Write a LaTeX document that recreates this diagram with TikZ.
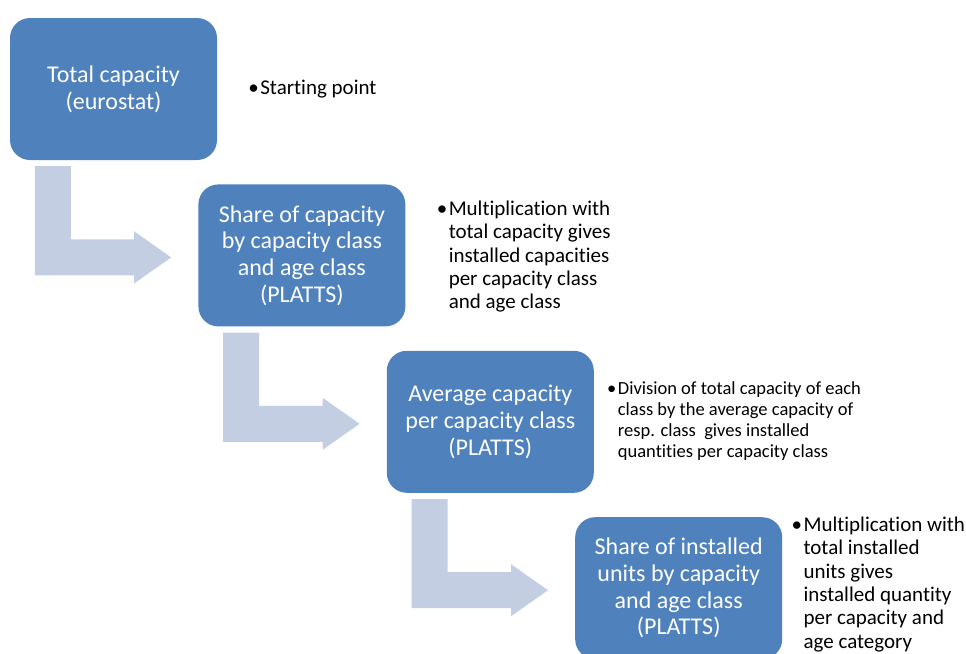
\documentclass[tikz,border=0pt]{standalone}
\usepackage{fontspec}
\setmainfont{Carlito}[Ligatures=NoCommon]
\usetikzlibrary{positioning, calc}

\definecolor{boxblue}{HTML}{4F81BD}
\definecolor{flowgray}{HTML}{C3CEE3}

% bullet with the lines of the note hanging after it
\newcommand{\noteitem}[1]{\textbullet\hspace{1.5pt}\begin{tabular}[t]{@{}l@{}}#1\end{tabular}}

\begin{document}
\begin{tikzpicture}[
  x=1pt, y=1pt,
  stepbox/.style={rectangle, rounded corners=20pt, fill=boxblue, text=white, align=center,
    minimum width=207pt, minimum height=142pt, inner sep=0pt, font=\fontsize{24}{26.7}\selectfont},
  note/.style={inner sep=0pt, font=\fontsize{21}{23.4}\selectfont},
  smallnote/.style={note, font=\fontsize{18.5}{20.9}\selectfont},
  flow/.style={fill=flowgray}
]
  \clip (0,0) rectangle (966,-653);

  \node[stepbox] (total) at (113.5,-89) {Total capacity\\(eurostat)};
  \node[stepbox, below right=24pt and -19pt of total] (share) {Share of capacity\\by capacity class\\and age class\\(PLATTS)};
  \node[stepbox, below right=24pt and -19pt of share] (avg) {Average capacity\\per capacity class\\(PLATTS)};
  \node[stepbox, below right=24pt and -19pt of avg] (units) {Share of installed\\units by capacity\\and age class\\(PLATTS)};

  \node[note, right=31pt of total, yshift=-1pt] (start) {\noteitem{Starting point}};
  \node[note, right=31pt of share, yshift=-2pt] (mult) {\noteitem{Multiplication with\\total capacity gives\\installed capacities\\per capacity class\\and age class}};
  \node[smallnote, right=13pt of avg] (div) {\noteitem{Division of total capacity of each\\class by the average capacity of\\resp. class\ \ gives installed\\quantities per capacity class}};
  \node[note, right=9pt of units, yshift=3pt] (inst) {\noteitem{Multiplication with\\total installed\\units gives\\installed quantity\\per capacity and\\age category}};

  % bent arrows from one step to the next
  \foreach \a/\b in {total/share, share/avg, avg/units}
    \fill[flow] let \p1=(\a.south west), \p2=(\b.west) in
      (\x1+25pt,\y1-6pt) -- (\x1+61pt,\y1-6pt) -- (\x1+61pt,\y2+16pt)
      -- (\x2-64pt,\y2+16pt) -- (\x2-64pt,\y2+24pt) -- (\x2-27pt,\y2-2pt)
      -- (\x2-64pt,\y2-28pt) -- (\x2-64pt,\y2-20pt) -- (\x1+25pt,\y2-20pt) -- cycle;
\end{tikzpicture}
\end{document}
